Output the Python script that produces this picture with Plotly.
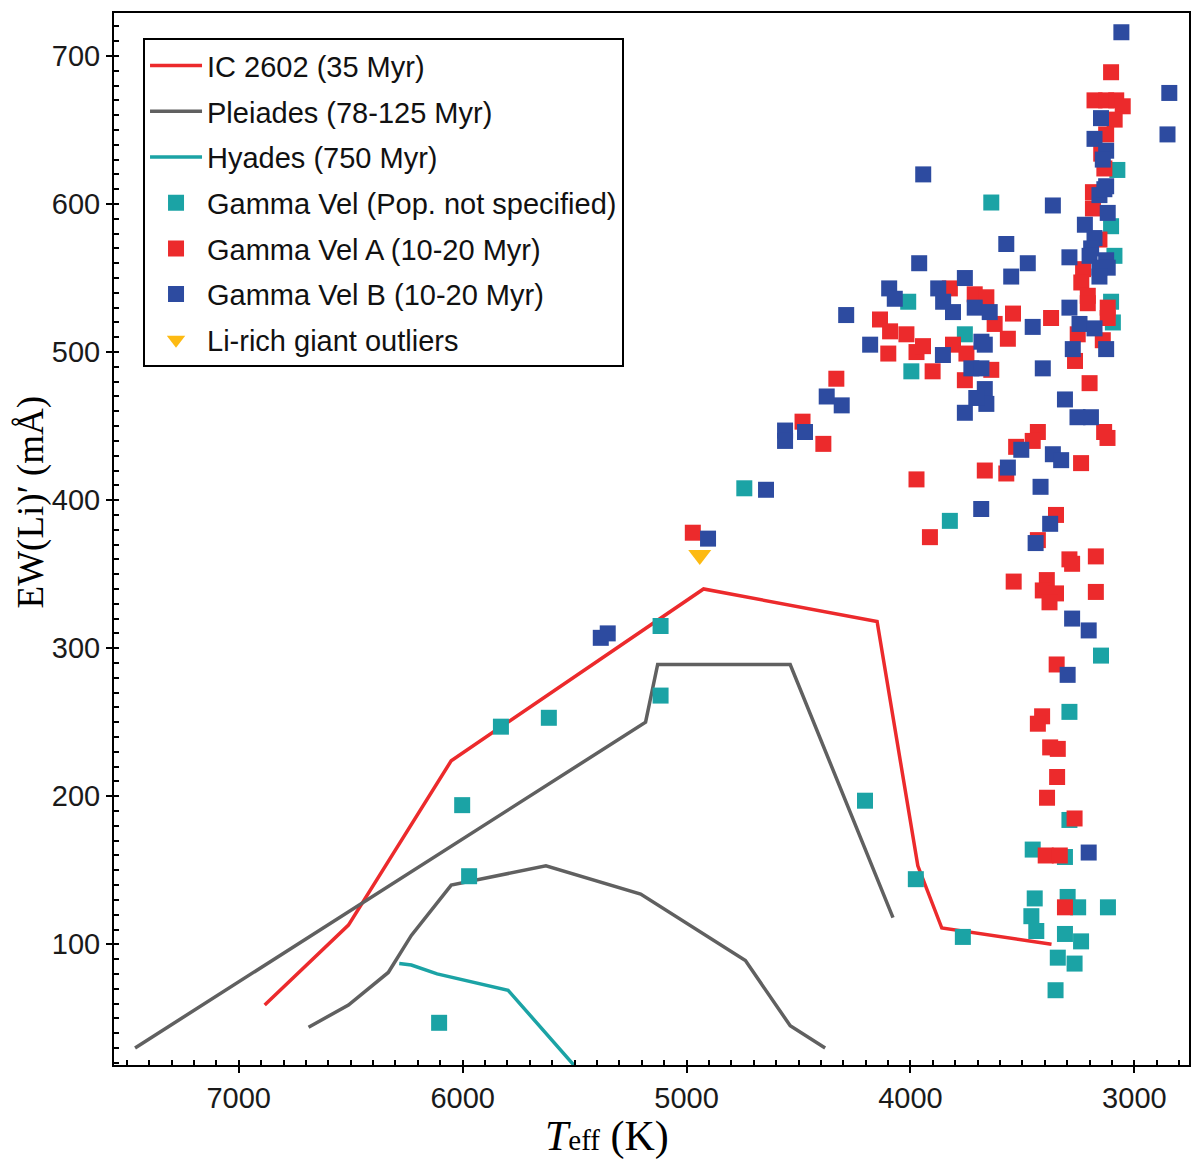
import plotly.graph_objects as go

# Li equivalent width vs Teff, Gamma Vel cluster with reference cluster sequences

IC2602_TEFF = [6884, 6510, 6051, 4924, 4149, 3967, 3860, 3370]
IC2602_EW = [59, 113, 224, 340, 318, 153, 111, 100]

PLEIADES_UPPER_TEFF = [7463, 5183, 5129, 4537, 4078]
PLEIADES_UPPER_EW = [30, 250, 289, 289, 118]
PLEIADES_LOWER_TEFF = [6688, 6510, 6332, 6229, 6051, 5628, 5205, 4737, 4537, 4381]
PLEIADES_LOWER_EW = [44, 59, 81, 106, 140, 153, 134, 89, 45, 30]

HYADES_TEFF = [6283, 6229, 6114, 5797, 5495]
HYADES_EW = [87, 86, 80, 69, 17]

GV_TEFF = [3076, 3639, 4010, 3757, 3996, 4742, 3824, 5116, 5829, 5615, 5116, 6002,
           5971, 6105, 4203, 3976, 3766, 3104, 3089, 3104, 3096, 3149, 3290, 3290,
           3454, 3310, 3445, 3460, 3438, 3298, 3251, 3118, 3310, 3238, 3342, 3267,
           3352]
GV_EW = [623, 601, 534, 512, 487, 408, 386, 315, 247, 253, 268, 194,
         146, 47, 197, 144, 105, 585, 565, 534, 520, 295, 257, 184,
         164, 159, 131, 119, 109, 132, 125, 125, 107, 102, 91, 87,
         69]

GVA_TEFF = [3104, 3178, 3126, 3081, 3052, 3088, 3126, 3148, 3134, 3185, 3185, 3156,
            3229, 3237, 3208, 3208, 3119, 3119, 3253, 3141, 3265, 3200, 3135, 3120,
            3713, 3661, 3824, 3624, 3542, 3372, 3565, 3757, 3639, 3810, 3750, 3973,
            3944, 3901, 4136, 4091, 4018, 4099, 4331, 4482, 4389, 3973, 3913, 4972,
            3431, 3454, 3528, 3238, 3668, 3572, 3350, 3431, 3290, 3278, 3172, 3539,
            3391, 3409, 3350, 3379, 3172, 3347, 3412, 3431, 3376, 3342, 3345, 3390,
            3267, 3396, 3333, 3310]
GVA_EW = [689, 670, 670, 670, 666, 657, 647, 634, 624, 608, 597, 576,
          556, 547, 538, 533, 530, 523, 512, 508, 494, 479, 446, 442,
          539, 537, 543, 519, 526, 523, 509, 481, 488, 505, 499, 500,
          504, 487, 522, 514, 512, 499, 482, 453, 438, 414, 375, 378,
          446, 440, 436, 425, 420, 418, 390, 373, 360, 357, 362, 345,
          346, 339, 337, 331, 338, 289, 254, 249, 233, 232, 213, 199,
          185, 160, 160, 125]

GVB_TEFF = [3058, 2844, 3149, 2852, 3178, 3126, 3141, 3126, 3156, 3134, 3119, 3221,
            3178, 3193, 3200, 3290, 3126, 3156, 3119, 3156, 3290, 3245, 3178, 3126,
            3275, 3310, 3254, 3194, 3364, 3572, 3476, 3550, 3757, 3713, 3646, 3454,
            3683, 3668, 3728, 3683, 3668, 3661, 3706, 3757, 3409, 3505, 3364, 3327,
            3565, 3419, 3943, 3961, 4095, 4070, 3876, 3854, 3810, 4287, 4180, 3855,
            4374, 4307, 4560, 4560, 4471, 3684, 4645, 4904, 3376, 3441, 3278, 3204,
            3298, 3204, 5383, 5352]
GVB_EW = [716, 675, 658, 647, 644, 636, 630, 612, 606, 610, 594, 586,
          577, 570, 565, 564, 562, 557, 557, 551, 530, 519, 516, 502,
          502, 468, 456, 456, 599, 573, 560, 551, 550, 530, 527, 517,
          507, 505, 489, 489, 475, 465, 469, 459, 489, 434, 431, 427,
          422, 409, 620, 560, 543, 536, 543, 534, 527, 525, 505, 498,
          470, 464, 447, 440, 446, 394, 407, 374, 384, 371, 320, 312,
          282, 162, 307, 310]

GIANT_TEFF = [4941]
GIANT_EW = [363]

RED = "#EC2A2C"
BLUE = "#2D4BA0"
TEAL = "#1BA3A5"
GRAY = "#606060"
YELLOW = "#FDBA12"

fig = go.Figure()

fig.add_trace(go.Scatter(
    x=IC2602_TEFF, y=IC2602_EW, mode="lines", name="IC 2602 (35 Myr)",
    line={"color": RED, "width": 3.5}, legendgroup="ic",
))
fig.add_trace(go.Scatter(
    x=PLEIADES_UPPER_TEFF, y=PLEIADES_UPPER_EW, mode="lines",
    name="Pleiades (78-125 Myr)", line={"color": GRAY, "width": 3.5},
    legendgroup="pl",
))
fig.add_trace(go.Scatter(
    x=PLEIADES_LOWER_TEFF, y=PLEIADES_LOWER_EW, mode="lines",
    name="Pleiades (78-125 Myr)", line={"color": GRAY, "width": 3.5},
    legendgroup="pl", showlegend=False,
))
fig.add_trace(go.Scatter(
    x=HYADES_TEFF, y=HYADES_EW, mode="lines", name="Hyades (750 Myr)",
    line={"color": TEAL, "width": 3.5}, legendgroup="hy",
))
fig.add_trace(go.Scatter(
    x=GV_TEFF, y=GV_EW, mode="markers", name="Gamma Vel (Pop. not specified)",
    marker={"symbol": "square", "size": 16, "color": TEAL}, legendgroup="gv",
))
fig.add_trace(go.Scatter(
    x=GVA_TEFF, y=GVA_EW, mode="markers", name="Gamma Vel A (10-20 Myr)",
    marker={"symbol": "square", "size": 16, "color": RED}, legendgroup="gva",
))
fig.add_trace(go.Scatter(
    x=GVB_TEFF, y=GVB_EW, mode="markers", name="Gamma Vel B (10-20 Myr)",
    marker={"symbol": "square", "size": 16, "color": BLUE}, legendgroup="gvb",
))
fig.add_trace(go.Scatter(
    x=GIANT_TEFF, y=GIANT_EW, mode="markers", name="Li-rich giant outliers",
    marker={"symbol": "triangle-down", "size": 20, "color": YELLOW},
    legendgroup="gi",
))

axis_common = {
    "showgrid": False,
    "zeroline": False,
    "showline": True,
    "linecolor": "black",
    "linewidth": 2,
    "mirror": True,
    "ticks": "outside",
    "ticklen": 6,
    "tickwidth": 1.5,
    "tickcolor": "black",
    "tickfont": {"family": "Liberation Sans, Arial, sans-serif", "size": 29,
                 "color": "#1a1a1a"},
}

fig.update_xaxes(
    range=[7557, 2756], dtick=1000, tickformat="d", ticklabelstandoff=0,
    minor={"dtick": 100, "ticks": "inside", "ticklen": 5, "tickwidth": 1.5,
           "tickcolor": "black", "showgrid": False},
    **axis_common,
)
fig.update_yaxes(
    range=[18.5, 729], dtick=100, ticklabelstandoff=0,
    minor={"dtick": 10, "ticks": "inside", "ticklen": 5, "tickwidth": 1.5,
           "tickcolor": "black", "showgrid": False},
    **axis_common,
)

fig.add_annotation(
    text="EW(Li)′ (mÅ)", textangle=-90,
    xref="paper", yref="paper", x=-0.077, y=0.535,
    xanchor="center", yanchor="middle", showarrow=False,
    font={"family": "Liberation Serif, Times New Roman, serif", "size": 37,
          "color": "black"},
)
fig.add_annotation(
    text="<i>T</i><span style='font-size:29px'>eff</span> (K)",
    xref="paper", yref="paper", x=0.4586, y=-0.068,
    xanchor="center", yanchor="middle", showarrow=False,
    font={"family": "Liberation Serif, Times New Roman, serif", "size": 42,
          "color": "black"},
)

# the page body has an 8px margin, so the figure is sized 8px smaller
fig.update_layout(
    width=1192,
    height=1159,
    margin={"l": 106, "r": 11, "t": 3, "b": 102},
    plot_bgcolor="white",
    paper_bgcolor="white",
    legend={
        "x": 0.027, "y": 0.976, "xanchor": "left", "yanchor": "top",
        "bgcolor": "white", "bordercolor": "black", "borderwidth": 2,
        "font": {"family": "Liberation Sans, Arial, sans-serif", "size": 29,
                 "color": "#111111"},
        "tracegroupgap": 5,
        "itemwidth": 52,
    },
)

fig.write_html("out.html")
